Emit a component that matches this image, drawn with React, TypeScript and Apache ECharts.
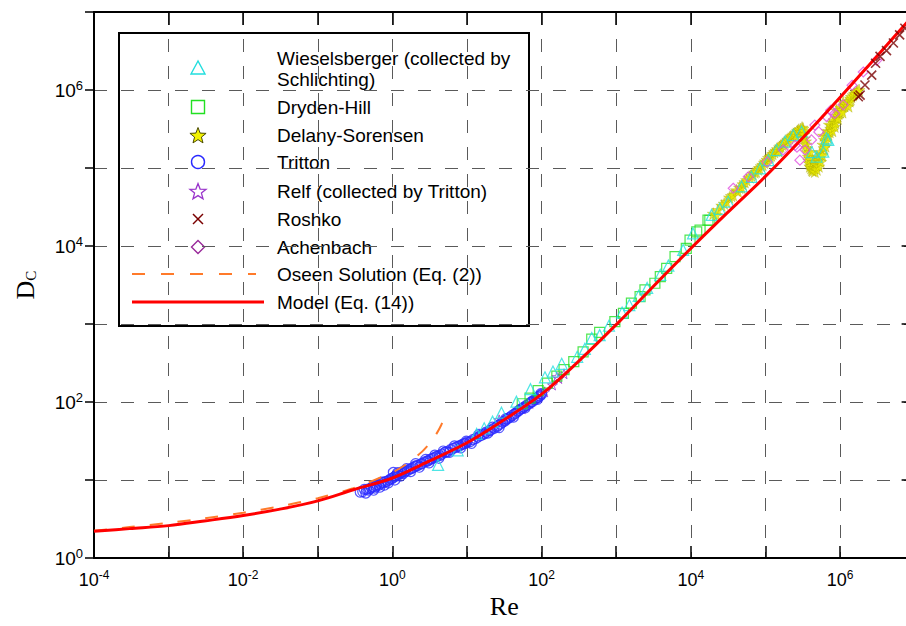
import React, { useEffect, useRef } from 'react';
import * as echarts from 'echarts';

// ---------- data (Re, D_C) ----------
const wieselsberger: [number, number][] = [
  [4.1, 15.6], [7.5, 24], [13.5, 39], [17, 46], [22, 56], [29, 73], [46, 101], [71, 146],
  [111, 207], [142, 246], [186, 309], [300, 380], [380, 480], [470, 660], [600, 720],
  [800, 950], [1200, 1400], [1500, 1750], [2000, 2300], [2600, 2900], [3900, 4270],
  [5000, 5600], [7900, 8900], [10700, 14500], [19000, 25000], [24500, 30000], [31800, 37000],
  [48000, 58000], [65000, 77000], [85000, 99000], [110000, 126000], [141000, 170000],
  [183000, 218000], [237000, 265000], [306000, 292000], [420000, 160000], [486000, 140000],
  [597000, 162000], [660000, 240000], [697000, 229000],
];
const drydenHill: [number, number][] = [
  [55, 95], [70, 112], [90, 140], [120, 175], [160, 215], [200, 260], [270, 330], [360, 440],
  [470, 640], [600, 780], [960, 1070], [1250, 1370], [1600, 1850], [2090, 2240], [2430, 2740],
  [3300, 3330], [3900, 4060], [4750, 5180], [6150, 7300], [8700, 9350], [9770, 11900],
  [12000, 15200], [13300, 16000], [17000, 21500], [18000, 21300],
];
const delanySorensen: [number, number][] = [
  [20000, 26000], [22000, 25000], [23000, 29000], [26000, 33000], [28000, 35000], [30000, 37000],
  [33000, 42000], [35000, 44000], [37000, 45000], [41000, 52000], [43000, 50000], [45000, 56000],
  [48000, 56000], [50000, 62000], [53000, 66000], [56000, 70000], [62000, 76000], [65000, 80000],
  [68000, 84000], [72000, 88000], [75000, 90000], [80000, 96000], [83000, 100000], [88000, 106000],
  [92000, 110000], [97000, 117000], [100000, 122000], [105000, 128000], [110000, 135000],
  [115000, 140000], [120000, 145000], [125000, 152000], [132000, 160000], [138000, 167000],
  [145000, 175000], [150000, 165000], [155000, 185000], [160000, 190000], [168000, 200000],
  [175000, 205000], [182000, 212000], [190000, 220000], [200000, 232000], [210000, 240000],
  [220000, 255000], [230000, 260000], [240000, 270000], [250000, 280000], [260000, 260000],
  [270000, 300000], [280000, 310000], [295000, 315000], [300000, 290000], [310000, 330000],
  [320000, 320000], [325000, 300000], [330000, 270000], [335000, 240000], [345000, 220000],
  [350000, 200000], [360000, 180000], [365000, 160000], [375000, 140000], [380000, 125000],
  [390000, 115000], [395000, 105000], [400000, 130000], [400000, 160000], [410000, 100000],
  [420000, 95000], [430000, 92000], [440000, 120000], [450000, 100000], [460000, 90000],
  [470000, 120000], [480000, 110000], [490000, 96000], [500000, 140000], [510000, 125000],
  [520000, 105000], [530000, 135000], [540000, 160000], [550000, 120000], [560000, 150000],
  [580000, 145000], [590000, 200000], [600000, 260000], [610000, 180000], [620000, 230000],
  [640000, 190000], [650000, 220000], [670000, 300000], [680000, 250000], [700000, 270000],
  [720000, 360000], [730000, 290000], [750000, 320000], [770000, 350000], [790000, 300000],
  [810000, 380000], [830000, 410000], [850000, 340000], [870000, 380000], [880000, 440000],
  [900000, 550000], [920000, 470000], [940000, 430000], [960000, 500000], [1000000, 520000],
  [1020000, 600000], [1050000, 560000], [1080000, 520000], [1100000, 700000], [1150000, 630000],
  [1200000, 660000], [1250000, 700000], [1300000, 620000], [1350000, 720000], [1380000, 780000],
  [1420000, 820000], [1500000, 860000], [1560000, 900000], [1650000, 940000], [1700000, 970000],
  [1800000, 1000000],
];
const tritton: [number, number][] = [
  [0.37, 7.0], [0.4, 7.1], [0.42, 7.6], [0.45, 7.6], [0.48, 7.4], [0.5, 7.7], [0.52, 8.0],
  [0.55, 8.2], [0.58, 7.9], [0.6, 8.3], [0.62, 8.7], [0.66, 8.6], [0.7, 8.9], [0.72, 9.4],
  [0.75, 9.3], [0.8, 9.5], [0.85, 9.6], [0.9, 10], [0.95, 10.3], [1.0, 10.5], [1.03, 12.5],
  [1.05, 10.9], [1.1, 11.2], [1.15, 11.7], [1.2, 11.5], [1.25, 12.1], [1.3, 12.3], [1.35, 12.7],
  [1.4, 12.1], [1.45, 12.6], [1.5, 13], [1.6, 13.2], [1.7, 13.8], [1.8, 14.0], [1.9, 14.4],
  [2.0, 15.0], [2.1, 15.2], [2.2, 15.4], [2.4, 16], [2.5, 16.3], [2.7, 17], [2.9, 17.4],
  [3.0, 17.6], [3.2, 18.4], [3.4, 18.8], [3.6, 19.2], [3.8, 19.8], [4.0, 20.2], [4.3, 20.5],
  [4.6, 21.5], [5, 22.5], [5.2, 23.0], [5.5, 23], [6, 24.5], [6.5, 25.5], [7, 26], [7.5, 27],
  [8, 27.5], [8.5, 28.3], [9, 29], [9.5, 29.5], [10, 30.5], [11, 31], [12, 33], [13, 34],
  [14, 35.5], [15, 37], [16, 38], [17, 39], [18, 41], [20, 43], [21, 44], [23, 46], [25, 48],
  [26, 50], [28, 52], [30, 55], [32, 57], [34, 60], [36, 62], [38, 64], [40, 67], [43, 70],
  [45, 72], [48, 76], [50, 78], [55, 83], [58, 86], [62, 90], [66, 93], [70, 97], [75, 101],
  [80, 107], [85, 110], [90, 116], [95, 120], [100, 125],
  [0.44, 6.8], [0.56, 7.4], [0.68, 8.1], [0.78, 8.6], [0.88, 9.2], [1.08, 10.0], [1.18, 12.4],
  [1.28, 11.2], [1.55, 14.0], [1.75, 12.8], [2.05, 16.2], [2.3, 14.6], [2.8, 18.4], [3.1, 16.6],
  [3.7, 20.8], [4.2, 19.0], [4.8, 23.5], [5.8, 22.6], [6.8, 27.4], [8.2, 25.8], [9.8, 31.5],
  [11.5, 29.5], [14.5, 38.5], [19, 40], [22, 47.5], [27, 47], [33, 61], [42, 64], [52, 81],
  [60, 84], [72, 100], [88, 108], [98, 128],
];
const relf: [number, number][] = [
  [10, 30], [15, 38], [20, 43], [27, 59], [30, 56], [40, 66], [55, 82], [70, 96], [90, 115],
  [110, 135], [140, 165], [160, 210], [170, 200], [200, 230],
];
const roshko: [number, number][] = [
  [1760000, 820000], [1860000, 860000], [2160000, 1160000], [2660000, 1550000],
  [3000000, 2200000], [3440000, 2700000], [4200000, 3200000], [5200000, 4000000],
  [6300000, 5100000], [7400000, 6200000],
];
const achenbach: [number, number][] = [
  [37000, 55000], [59000, 77000], [105000, 120000], [173000, 170000], [250000, 195000],
  [265000, 185000], [290000, 126000], [340000, 170000], [415000, 229000], [460000, 355000],
  [520000, 290000], [660000, 457000], [750000, 550000], [850000, 500000], [1100000, 645000],
  [1450000, 1150000], [2050000, 1700000], [3100000, 2400000],
];
const oseenRe = [1e-4, 3e-4, 1e-3, 3e-3, 1e-2, 3e-2, 0.1, 0.3, 1, 1.5, 2, 2.5, 3, 3.5, 4, 4.5, 5];
const oseenD = [2.24, 2.49, 2.82, 3.22, 3.8, 4.56, 5.84, 7.84, 12.5, 15.7, 19.2, 23.1, 27.8, 33.5, 40.8, 50.4, 63.9];
const modelRe = [1e-4, 3e-4, 1e-3, 3e-3, 1e-2, 3e-2, 0.1, 0.3, 1, 3, 10, 30, 100, 300, 1e3, 3e3, 1e4, 3e4, 1e5, 3e5, 1e6, 3e6, 1e7];
const modelD = [2.2, 2.38, 2.6, 2.98, 3.5, 4.2, 5.4, 7.5, 10.6, 17.2, 30, 57.5, 126, 320, 980, 2900, 9300, 26000, 78000, 230000, 800000, 2600000, 9500000];

const xExpMin = -4;
const xExpMax = 7;
const yExpMin = 0;
const yExpMax = 7;

const lg = (pts: [number, number][]) => pts.map(([x, y]) => [Math.log10(x), Math.log10(y)]);
const lgXY = (xs: number[], ys: number[]) => xs.map((x, i) => [Math.log10(x), Math.log10(ys[i])]);

const STAR = 'path://M50,0 L61,35 L98,35 L68,57 L79,91 L50,70 L21,91 L32,57 L2,35 L39,35 Z';
const CROSS = 'path://M0,0 L10,10 M10,0 L0,10';

const C = {
  cyan: '#22dede',
  green: '#22e022',
  yellow: '#e8e800',
  blue: '#2a2aff',
  purple: '#9a35cc',
  roshko: '#7a0000',
  ach: '#e050e0',
  oseen: '#ff7a2a',
  model: '#ff0000',
};

function starPts(cx: number, cy: number, R: number, r: number) {
  const pts: number[][] = [];
  for (let i = 0; i < 10; i++) {
    const a = -Math.PI / 2 + (i * Math.PI) / 5;
    const rad = i % 2 === 0 ? R : r;
    pts.push([cx + rad * Math.cos(a), cy + rad * Math.sin(a)]);
  }
  return pts;
}

const expLabel = (v: number) => {
  const e = Math.round(v);
  return e % 2 === 0 ? `{b|10}{s|${e}}` : '';
};

export default function App() {
  const ref = useRef<HTMLDivElement>(null);
  useEffect(() => {
    if (!ref.current) return;
    const chart = echarts.init(ref.current, undefined, { renderer: 'svg' });
    const font = '"Liberation Sans", Arial, sans-serif';
    const serif = '"Liberation Serif", "Times New Roman", serif';
    const xRich = {
      b: { fontFamily: font, fontSize: 18, color: '#000', lineHeight: 22 },
      s: { fontFamily: font, fontSize: 12, color: '#000', verticalAlign: 'top', lineHeight: 12 },
    };
    const yRich = {
      b: { fontFamily: font, fontSize: 19, color: '#000', lineHeight: 22 },
      s: { fontFamily: font, fontSize: 13, color: '#000', verticalAlign: 'top', lineHeight: 12 },
    };
    const gridLine = { show: true, lineStyle: { color: '#5a5a5a', width: 1, type: [13, 14] } };

    const LX = 198; // legend symbol centre
    const TX = 277; // legend text left
    const legendFont = `19px ${font}`;
    const txt = (s: string, y: number) => ({
      type: 'text', x: TX, y, style: { text: s, font: legendFont, fill: '#000', verticalAlign: 'middle', align: 'left' },
    });

    const legendChildren: any[] = [
      { type: 'rect', shape: { x: 119, y: 33, width: 410, height: 293 }, style: { fill: '#fff', stroke: '#000', lineWidth: 2 } },
      { type: 'polygon', shape: { points: [[LX, 61], [LX - 7, 74], [LX + 7, 74]] }, style: { fill: 'none', stroke: C.cyan, lineWidth: 1.4 } },
      txt('Wieselsberger (collected by', 58),
      txt('Schlichting)', 79),
      { type: 'rect', shape: { x: LX - 6.5, y: 100.5, width: 13, height: 13 }, style: { fill: 'none', stroke: C.green, lineWidth: 1.4 } },
      txt('Dryden-Hill', 107),
      { type: 'polygon', shape: { points: starPts(LX, 136, 8.5, 3.6) }, style: { fill: '#f2f200', stroke: '#4a4a00', lineWidth: 1 } },
      txt('Delany-Sorensen', 135),
      { type: 'circle', shape: { cx: LX, cy: 162, r: 6.5 }, style: { fill: 'none', stroke: C.blue, lineWidth: 1.4 } },
      txt('Tritton', 162),
      { type: 'polygon', shape: { points: starPts(LX, 192, 8.5, 3.6) }, style: { fill: 'none', stroke: C.purple, lineWidth: 1.3 } },
      txt('Relf (collected by Tritton)', 191),
      { type: 'line', shape: { x1: LX - 5, y1: 214, x2: LX + 5, y2: 224 }, style: { stroke: C.roshko, lineWidth: 1.5 } },
      { type: 'line', shape: { x1: LX + 5, y1: 214, x2: LX - 5, y2: 224 }, style: { stroke: C.roshko, lineWidth: 1.5 } },
      txt('Roshko', 219),
      { type: 'polygon', shape: { points: [[LX, 240.5], [LX + 6.5, 247], [LX, 253.5], [LX - 6.5, 247]] }, style: { fill: 'none', stroke: '#99299a', lineWidth: 1.4 } },
      txt('Achenbach', 247),
      { type: 'line', shape: { x1: 132, y1: 274, x2: 256, y2: 274 }, style: { stroke: C.oseen, lineWidth: 2, lineDash: [13, 16] } },
      txt('Oseen Solution (Eq. (2))', 274),
      { type: 'line', shape: { x1: 132, y1: 302, x2: 264, y2: 302 }, style: { stroke: C.model, lineWidth: 3 } },
      txt('Model (Eq. (14))', 302),
    ];

    const hollow = (c: string, w = 1.2) => ({ color: 'transparent', borderColor: c, borderWidth: w });

    chart.setOption({
      animation: false,
      backgroundColor: '#fff',
      grid: { left: 94, top: 12, width: 820.6, height: 546, containLabel: false, outerBoundsMode: 'none' },
      xAxis: [
        {
          type: 'value', min: xExpMin, max: xExpMax, interval: 1, position: 'bottom',
          name: 'Re', nameLocation: 'middle', nameGap: 34,
          nameTextStyle: { fontFamily: serif, fontSize: 26, color: '#000' },
          axisLine: { show: true, onZero: false, lineStyle: { color: '#000', width: 2 } },
          axisTick: { show: true, inside: true, length: 12, lineStyle: { color: '#000', width: 1.5 } },
          axisLabel: { formatter: expLabel, rich: xRich, margin: 11, showMinLabel: true, showMaxLabel: true, hideOverlap: false },
          splitLine: gridLine,
        },
        {
          type: 'value', min: xExpMin, max: xExpMax, interval: 1, position: 'top',
          axisLine: { show: true, onZero: false, lineStyle: { color: '#000', width: 2 } },
          axisTick: { show: true, inside: true, length: 13, lineStyle: { color: '#000', width: 1.5 } },
          axisLabel: { show: false }, splitLine: { show: false },
        },
      ],
      yAxis: [
        {
          type: 'value', min: yExpMin, max: yExpMax, interval: 1, position: 'left',
          name: '{d|D}{c|C}', nameLocation: 'middle', nameGap: 56,
          nameTextStyle: {
            rich: {
              d: { fontFamily: serif, fontSize: 26, color: '#000' },
              c: { fontFamily: serif, fontSize: 15, color: '#000', verticalAlign: 'bottom' },
            },
          },
          axisLine: { show: true, onZero: false, lineStyle: { color: '#000', width: 2 } },
          axisTick: { show: true, inside: false, length: 9, lineStyle: { color: '#000', width: 1.5 } },
          axisLabel: { formatter: expLabel, rich: yRich, margin: 11, showMinLabel: true, showMaxLabel: true },
          splitLine: gridLine,
        },
        {
          type: 'value', min: yExpMin, max: yExpMax, interval: 1, position: 'right',
          axisLine: { show: true, onZero: false, lineStyle: { color: '#000', width: 2 } },
          axisTick: { show: true, inside: true, length: 13, lineStyle: { color: '#000', width: 1.5 } },
          axisLabel: { show: false }, splitLine: { show: false },
        },
      ],
      graphic: { elements: [{ type: 'group', z: 100, children: legendChildren }] },
      series: [
        { name: 'Relf (collected by Tritton)', type: 'scatter', symbol: STAR, symbolSize: 10, data: lg(relf), itemStyle: hollow(C.purple, 1), z: 2 },
        { name: 'Tritton', type: 'scatter', symbol: 'circle', symbolSize: 10, data: lg(tritton), itemStyle: hollow(C.blue), z: 2 },
        { name: 'Dryden-Hill', type: 'scatter', symbol: 'rect', symbolSize: 10, data: lg(drydenHill), itemStyle: hollow(C.green), z: 2 },
        { name: 'Delany-Sorensen', type: 'scatter', symbol: STAR, symbolSize: 12, data: lg(delanySorensen), itemStyle: { color: C.yellow, borderColor: '#9a9a00', borderWidth: 0.4 }, z: 2 },
        { name: 'Wieselsberger (collected by Schlichting)', type: 'scatter', symbol: 'triangle', symbolSize: 11, data: lg(wieselsberger), itemStyle: hollow(C.cyan), z: 2 },
        { name: 'Achenbach', type: 'scatter', symbol: 'diamond', symbolSize: 10, data: lg(achenbach), itemStyle: hollow(C.ach), z: 2 },
        { name: 'Oseen Solution (Eq. (2))', type: 'line', data: lgXY(oseenRe, oseenD), showSymbol: false, symbol: 'none', smooth: 0.2, lineStyle: { color: C.oseen, width: 2, type: [13, 15] }, z: 3 },
        { name: 'Model (Eq. (14))', type: 'line', data: lgXY(modelRe, modelD), showSymbol: false, symbol: 'none', smooth: 0.35, lineStyle: { color: C.model, width: 3 }, z: 4 },
        { name: 'Roshko', type: 'scatter', symbol: CROSS, symbolSize: 9, data: lg(roshko), itemStyle: { color: 'transparent', borderColor: C.roshko, borderWidth: 1.6 }, z: 5 },
      ],
    });
    return () => chart.dispose();
  }, []);
  return <div ref={ref} style={{ position: 'absolute', left: 0, top: 0, width: 906, height: 626, background: '#fff' }} />;
}
